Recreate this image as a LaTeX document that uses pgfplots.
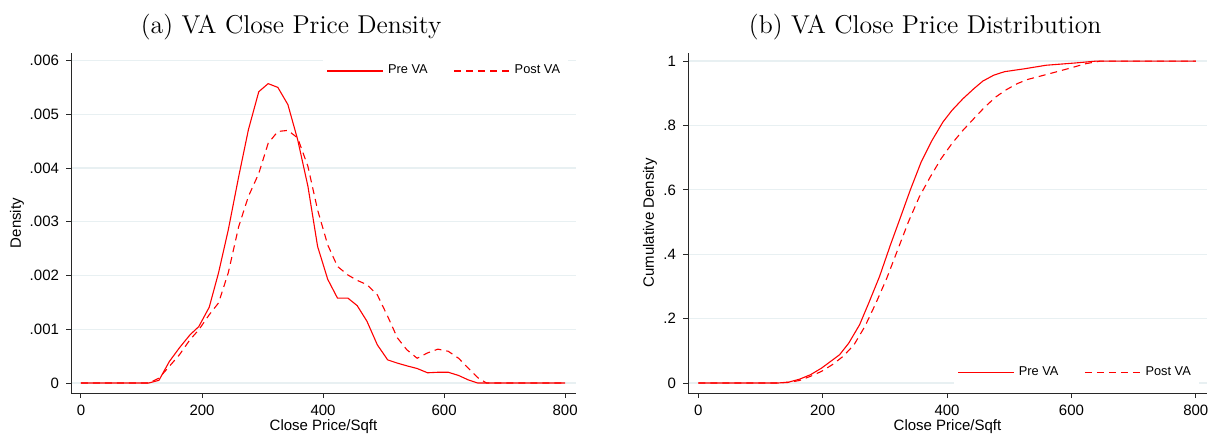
\documentclass[border=0pt]{standalone}
\usepackage{fontspec}
\setsansfont{Liberation Sans}
\usepackage{pgfplots}
\usepackage{pgfplotstable}
\pgfplotsset{compat=1.18}
\definecolor{gridc}{RGB}{232,240,242}
\definecolor{axc}{RGB}{40,40,40}
\definecolor{statared}{RGB}{255,0,0}

% kernel density, pre / post
\pgfplotstableread{
x pre post
0 0 0
16.3 0 0
32.7 0 0
49.0 0 0
65.3 0 0
81.6 0 0
98.0 0 0
112 0 0
128.8 0.00005 0.00009
146 0.00040 0.00031
163 0.00066 0.00053
180.4 0.00090 0.00081
194.7 0.00105 0.00099
211.9 0.00141 0.00127
227.3 0.00205 0.00149
243.4 0.00285 0.00205
260.6 0.00384 0.00291
276.6 0.00471 0.00347
293.8 0.00542 0.00390
309.3 0.00557 0.00446
325.3 0.00550 0.00468
341.9 0.00518 0.00470
358 0.00453 0.00456
375 0.00366 0.00403
391 0.00254 0.00322
407.7 0.00193 0.00257
423.8 0.00158 0.00217
441 0.00158 0.00201
456.4 0.00144 0.00191
472.5 0.00115 0.00183
489.7 0.00071 0.00164
506.8 0.00043 0.00124
522.8 0.00037 0.00084
538.3 0.00032 0.00062
555.5 0.00027 0.00046
572.7 0.00019 0.00056
589.8 0.00020 0.00063
607 0.00020 0.00059
624 0.00014 0.00046
639.6 0.00006 0.00028
655.6 0 0.00010
670 0 0
690 0 0
720 0 0
760 0 0
800 0 0
}\dens

\pgfplotstableread{
x y
0 0
128 0
145.7 0.003
163 0.012
180.6 0.026
198 0.046
212.7 0.067
227.3 0.088
242 0.124
259.4 0.181
274 0.248
291.5 0.331
309 0.429
326.5 0.522
341 0.600
358.5 0.687
376 0.754
393.5 0.811
408 0.847
425.6 0.883
443 0.914
457.7 0.938
475 0.956
492.4 0.967
524.5 0.976
559.4 0.987
606 0.994
641 1.0
800 1.0
}\cdfpre

\pgfplotstableread{
x y
0 0
128 0
145.7 0.002
163 0.008
180.6 0.021
198 0.036
215.6 0.057
233 0.083
250.5 0.119
268 0.176
285.6 0.248
303 0.325
320.5 0.413
338 0.501
355.6 0.579
373 0.640
390.5 0.697
408 0.744
425.6 0.785
443 0.821
460.6 0.857
478 0.888
495.3 0.911
513 0.930
530 0.943
547.7 0.952
571 0.964
594 0.976
623.5 0.992
647 1.0
800 1.0
}\cdfpost

\pgfplotsset{
  stata/.style={
    scale only axis, height=170pt,
    xmin=-16.5, xmax=818,
    axis lines=left,
    axis line style={-, axc, line width=0.5pt},
    xtick={0,200,...,800},
    scaled y ticks=false,
    tick align=outside, major tick length=2.5pt,
    tick style={axc, line width=0.5pt},
    ymajorgrids, grid style={gridc, line width=0.6pt},
    tick label style={font=\sffamily\fontsize{7.5}{9}\selectfont},
    /pgf/number format/assume math mode=true,
    label style={font=\sffamily\fontsize{7.5}{9}\selectfont},
    title style={font=\fontsize{12.9}{15}\selectfont, anchor=base, yshift=0pt},
    xlabel={Close Price/Sqft},
    xlabel style={at={(rel axis cs:0.5,-0.098)}, anchor=center},
    legend style={draw=none, fill=white, inner sep=2pt,
      font=\sffamily\fontsize{6.4}{8}\selectfont, legend columns=2,
      /tikz/every even column/.append style={column sep=11pt}},
    legend image code/.code={\draw[#1] (0pt,0pt) -- (28pt,0pt);},
  },
  pre/.style={statared, line width=0.55pt},
  post/.style={statared, line width=0.55pt, dash pattern=on 3.5pt off 2.5pt},
}

\begin{document}
\begin{tikzpicture}
\path[use as bounding box] (0pt,0pt) rectangle (605pt,-217pt);

\begin{axis}[stata,
  at={(35.5pt,-196.5pt)}, anchor=south west,
  width=252.5pt,
  ymin=-0.000186, ymax=0.00614,
  ytick={0,0.001,0.002,0.003,0.004,0.005,0.006},
  yticklabels={0,.001,.002,.003,.004,.005,.006},
  ylabel={Density},
  ylabel style={at={(rel axis cs:-0.107,0.5)}, anchor=center},
  title={(a) VA Close Price Density},
  title style={at={(rel axis cs:0.436,1.021)}},
  legend style={at={(rel axis cs:0.985,0.947)}, anchor=east},
]
\addplot[pre] table[x=x, y=pre] {\dens};
\addplot[post] table[x=x, y=post] {\dens};
\legend{Pre VA, Post VA}
\end{axis}

\begin{axis}[stata,
  at={(344pt,-196.5pt)}, anchor=south west,
  width=259.5pt,
  ymin=-0.031, ymax=1.025,
  ytick={0,0.2,0.4,0.6,0.8,1},
  yticklabels={0,.2,.4,.6,.8,1},
  ylabel={Cumulative Density},
  ylabel style={at={(rel axis cs:-0.073,0.5)}, anchor=center},
  title={(b) VA Close Price Distribution},
  title style={at={(rel axis cs:0.457,1.021)}},
  legend style={at={(rel axis cs:0.985,0.059)}, anchor=east},
]
\addplot[pre] table {\cdfpre};
\addplot[post] table {\cdfpost};
\legend{Pre VA, Post VA}
\end{axis}
\end{tikzpicture}
\end{document}
